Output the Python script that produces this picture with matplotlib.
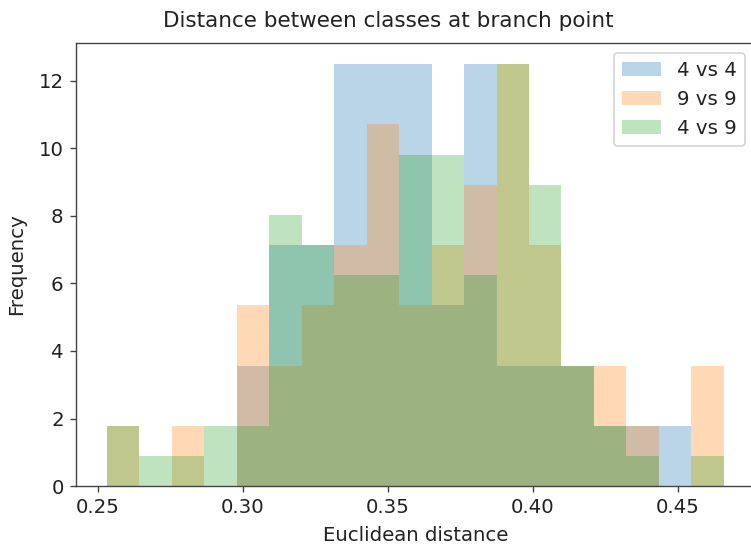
import numpy as np
import matplotlib
matplotlib.use('Agg')
import matplotlib.pyplot as plt

# bin edges shared by the three histograms
edges = np.linspace(0.253, 0.466, 20)
centres = (edges[:-1] + edges[1:]) / 2

# counts per bin (density is normalised later)
c_44 = [0, 0, 0, 0, 4, 8, 8, 14, 14, 14, 6, 14, 4, 4, 4, 2, 2, 2, 0]
c_99 = [2, 0, 2, 0, 6, 4, 6, 8, 12, 6, 8, 10, 14, 8, 4, 4, 2, 0, 4]
c_49 = [2, 1, 1, 2, 2, 9, 8, 7, 7, 11, 11, 7, 14, 10, 4, 2, 1, 0, 1]
labels = ['4 vs 4', '9 vs 9', '4 vs 9']

plt.rcParams['font.size'] = 11.4
plt.rcParams['text.color'] = '#222222'
plt.rcParams['axes.labelcolor'] = '#222222'
plt.rcParams['xtick.labelcolor'] = '#222222'
plt.rcParams['ytick.labelcolor'] = '#222222'
plt.rcParams['axes.edgecolor'] = '#444444'
plt.rcParams['xtick.color'] = '#444444'
plt.rcParams['ytick.color'] = '#444444'

fig = plt.figure(figsize=(751 / 125, 545 / 125), dpi=125)
ax = fig.add_axes([0.101, 0.108, 0.904, 0.813])

for counts, lab in zip([c_44, c_99, c_49], labels):
    ax.hist(centres, bins=edges, weights=counts, density=True, alpha=0.3, label=lab)

ax.set_title('Distance between classes at branch point', fontsize=12.4, pad=9, x=0.46)
ax.set_xlabel('Euclidean distance', labelpad=5)
ax.set_ylabel('Frequency', labelpad=7)
ax.legend(loc='upper right')

fig.savefig('out.png', dpi=125)
